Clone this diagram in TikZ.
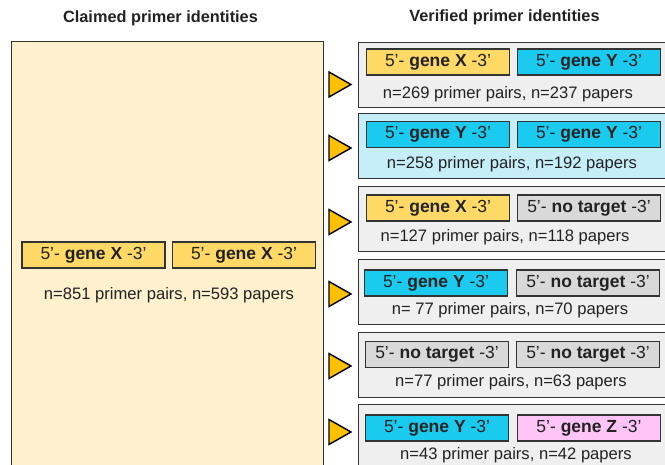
\documentclass[tikz,border=0pt]{standalone}
\usepackage{fontspec}
\setmainfont{Liberation Sans}

\definecolor{cream}{HTML}{FFF0CE}
\definecolor{genex}{HTML}{FFD966}
\definecolor{geney}{HTML}{1ACBEF}
\definecolor{genez}{HTML}{FFC4F6}
\definecolor{notarget}{HTML}{D9D9D9}
\definecolor{panelgray}{HTML}{EFEFEF}
\definecolor{panelblue}{HTML}{C5EEF9}
\definecolor{arrowfill}{HTML}{FFC000}
\definecolor{edge}{HTML}{333333}
\definecolor{ink}{HTML}{222222}

\tikzset{
  primer/.style={draw=edge, line width=1.4pt, minimum width=143pt, minimum height=26pt,
    inner sep=0pt, text=ink, font=\fontsize{17.5}{20}\selectfont},
  panelbox/.style={draw=edge, line width=1.4pt, fill=panelgray, anchor=north west,
    minimum width=314pt, minimum height=65pt, inner sep=0pt},
  countlabel/.style={text=ink, font=\fontsize{16.6}{19}\selectfont, inner sep=0pt},
  titlelabel/.style={text=ink, font=\bfseries\fontsize{16.3}{19}\selectfont, inner sep=0pt},
  pointer/.style={draw=black, fill=arrowfill, line width=1.4pt, line join=miter},
}
\newcommand{\primertext}[1]{5’- \textbf{#1} -3’}

\begin{document}
\begin{tikzpicture}[x=1pt,y=-1pt]
\useasboundingbox (0,0) rectangle (665,465);
\clip (0,0) rectangle (665,465);

% titles
\node[titlelabel] (t1) at (160.5,18) {Claimed primer identities};
\node[titlelabel] (t2) at (504.5,17) {Verified primer identities};

% claimed box
\node[draw=edge, line width=1.4pt, fill=cream, anchor=north west, minimum width=312pt,
  minimum height=440pt, inner sep=0pt] (claimed) at (11,41) {};
\node[primer, fill=genex] (c1) at (93.5,255) {\primertext{gene X}};
\node[primer, fill=genex] (c2) at (244,255) {\primertext{gene X}};
\node[countlabel] (cn) at (169,295) {n=851 primer pairs, n=593 papers};

% panel 1
\node[panelbox] (p1) at (358,42) {};
\node[primer, fill=genex] (p1a) at (438,62) {\primertext{gene X}};
\node[primer, fill=geney] (p1b) at (589,62) {\primertext{gene Y}};
\node[countlabel] (p1n) at (508,94) {n=269 primer pairs, n=237 papers};
\draw[pointer] (329,72) -- (351,84.5) -- (329,97) -- cycle;

% panel 2
\node[panelbox, fill=panelblue] (p2) at (358,113) {};
\node[primer, fill=geney] (p2a) at (438,134.5) {\primertext{gene Y}};
\node[primer, fill=geney] (p2b) at (589,134.5) {\primertext{gene Y}};
\node[countlabel] (p2n) at (512,164) {n=258 primer pairs, n=192 papers};
\draw[pointer] (329,135.5) -- (351,148) -- (329,160.5) -- cycle;

% panel 3
\node[panelbox] (p3) at (358,186) {};
\node[primer, fill=genex] (p3a) at (438,208) {\primertext{gene X}};
\node[primer, fill=notarget] (p3b) at (589,208) {\primertext{no target}};
\node[countlabel] (p3n) at (505,237) {n=127 primer pairs, n=118 papers};
\draw[pointer] (329,209.5) -- (351,222) -- (329,234.5) -- cycle;

% panel 4
\node[panelbox] (p4) at (358,259) {};
\node[primer, fill=geney] (p4a) at (436,283) {\primertext{gene Y}};
\node[primer, fill=notarget] (p4b) at (588,283) {\primertext{no target}};
\node[countlabel] (p4n) at (510,310) {n= 77 primer pairs, n=70 papers};
\draw[pointer] (329,281.5) -- (351,294) -- (329,306.5) -- cycle;

% panel 5
\node[panelbox] (p5) at (358,332) {};
\node[primer, fill=notarget] (p5a) at (437,354.5) {\primertext{no target}};
\node[primer, fill=notarget] (p5b) at (588,354.5) {\primertext{no target}};
\node[countlabel] (p5n) at (511,382) {n=77 primer pairs, n=63 papers};
\draw[pointer] (329,353.5) -- (351,366) -- (329,378.5) -- cycle;

% panel 6
\node[panelbox] (p6) at (358,404) {};
\node[primer, fill=geney] (p6a) at (437,428) {\primertext{gene Y}};
\node[primer, fill=genez] (p6b) at (589,428) {\primertext{gene Z}};
\node[countlabel] (p6n) at (516,455) {n=43 primer pairs, n=42 papers};
\draw[pointer] (329,419.5) -- (351,432) -- (329,444.5) -- cycle;
\end{tikzpicture}
\end{document}
